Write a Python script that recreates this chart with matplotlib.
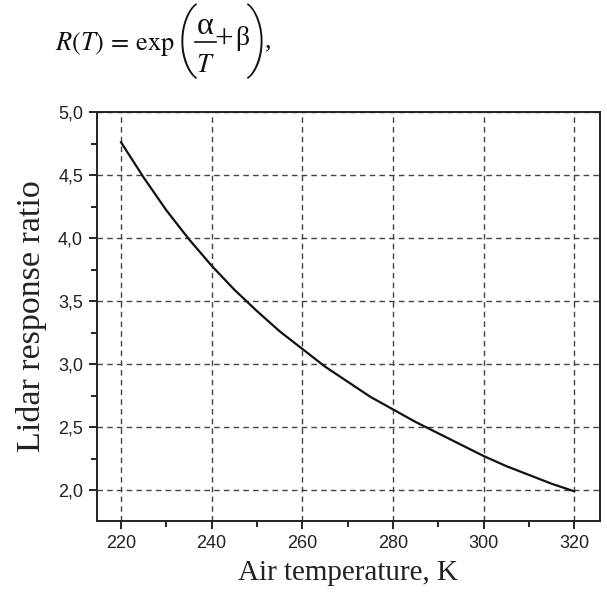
import matplotlib
matplotlib.use("Agg")
import matplotlib.pyplot as plt
from matplotlib.lines import Line2D
from matplotlib.ticker import MultipleLocator, FuncFormatter

# Data
temperature_K = [220, 225, 230, 235, 240, 245, 250, 255, 260, 265, 270,
                 275, 280, 285, 290, 295, 300, 305, 310, 315, 320]
response_ratio = [4.76, 4.48, 4.22, 3.99, 3.78, 3.59, 3.42, 3.26, 3.12, 2.98, 2.86,
                  2.74, 2.64, 2.54, 2.45, 2.36, 2.27, 2.19, 2.12, 2.05, 1.99]
x_ticks = [220, 240, 260, 280, 300, 320]
y_ticks = [2.0, 2.5, 3.0, 3.5, 4.0, 4.5, 5.0]

plt.rcParams['mathtext.fontset'] = 'stix'

W, H = 607, 594
fig = plt.figure(figsize=(W / 100, H / 100), dpi=100)
ax = fig.add_axes([97 / W, 1 - 521 / H, (600 - 97) / W, (521 - 112) / H])

ax.plot(temperature_K, response_ratio, color='#111111', lw=1.6)

ax.set_xlim(214.7, 325.7)
ax.set_ylim(1.754, 5.0)
ax.set_xticks(x_ticks)
ax.set_yticks(y_ticks)
ax.xaxis.set_minor_locator(MultipleLocator(10))
ax.yaxis.set_minor_locator(MultipleLocator(0.25))
ax.yaxis.set_major_formatter(FuncFormatter(lambda v, p: f"{v:.1f}".replace('.', ',')))
ax.xaxis.set_major_formatter(FuncFormatter(lambda v, p: f"{v:.0f}"))

for lab in ax.get_xticklabels() + ax.get_yticklabels():
    lab.set_family('Liberation Sans')
    lab.set_fontsize(13)
    lab.set_color('#222222')

ax.tick_params(which='major', direction='out', length=6, width=1.2, top=False, right=False, pad=4)
ax.tick_params(which='minor', direction='out', length=4, width=1.2, top=False, right=False)

for s in ax.spines.values():
    s.set_linewidth(1.4)
    s.set_color('#222222')

ax.grid(True, which='major', color='#444444', linestyle=(0, (4, 3)), linewidth=1.0)

ax.set_xlabel('Air temperature, K', family='Liberation Serif', fontsize=21, color='#222222', labelpad=6)
ax.set_ylabel('Lidar response ratio', family='Liberation Serif', fontsize=24.5, color='#222222', labelpad=8)


# ---- formula at the top, assembled from text pieces (pixel positions) ----
def P(x, y):
    return x / W, 1 - y / H

ink = '#111111'
fig.text(*P(55, 50), r'$R(T)\,=\,\mathrm{exp}$', fontsize=19, ha='left', va='baseline', color=ink)
fig.text(*P(187, 41), '(', family='Roboto', weight=200, fontsize=53, ha='center', va='center', color=ink)
fig.text(*P(205, 34), 'α', family='Liberation Serif', fontsize=23, ha='center', va='baseline', color=ink)
fig.add_artist(Line2D([195 / W, 216 / W], [1 - 42 / H, 1 - 42 / H], color=ink, lw=1.2))
fig.text(*P(205, 72), r'$T$', fontsize=19, ha='center', va='baseline', color=ink)
fig.text(*P(224, 49), '+', family='Liberation Serif', fontsize=24, ha='center', va='baseline', color=ink)
fig.text(*P(235, 45), 'β', family='Liberation Serif', fontsize=20, ha='left', va='baseline', color=ink)
fig.text(*P(257, 41), ')', family='Roboto', weight=200, fontsize=53, ha='center', va='center', color=ink)
fig.text(*P(265, 47), ',', family='Liberation Serif', fontsize=19, ha='left', va='baseline', color=ink)

fig.savefig('out.png', dpi=100)
